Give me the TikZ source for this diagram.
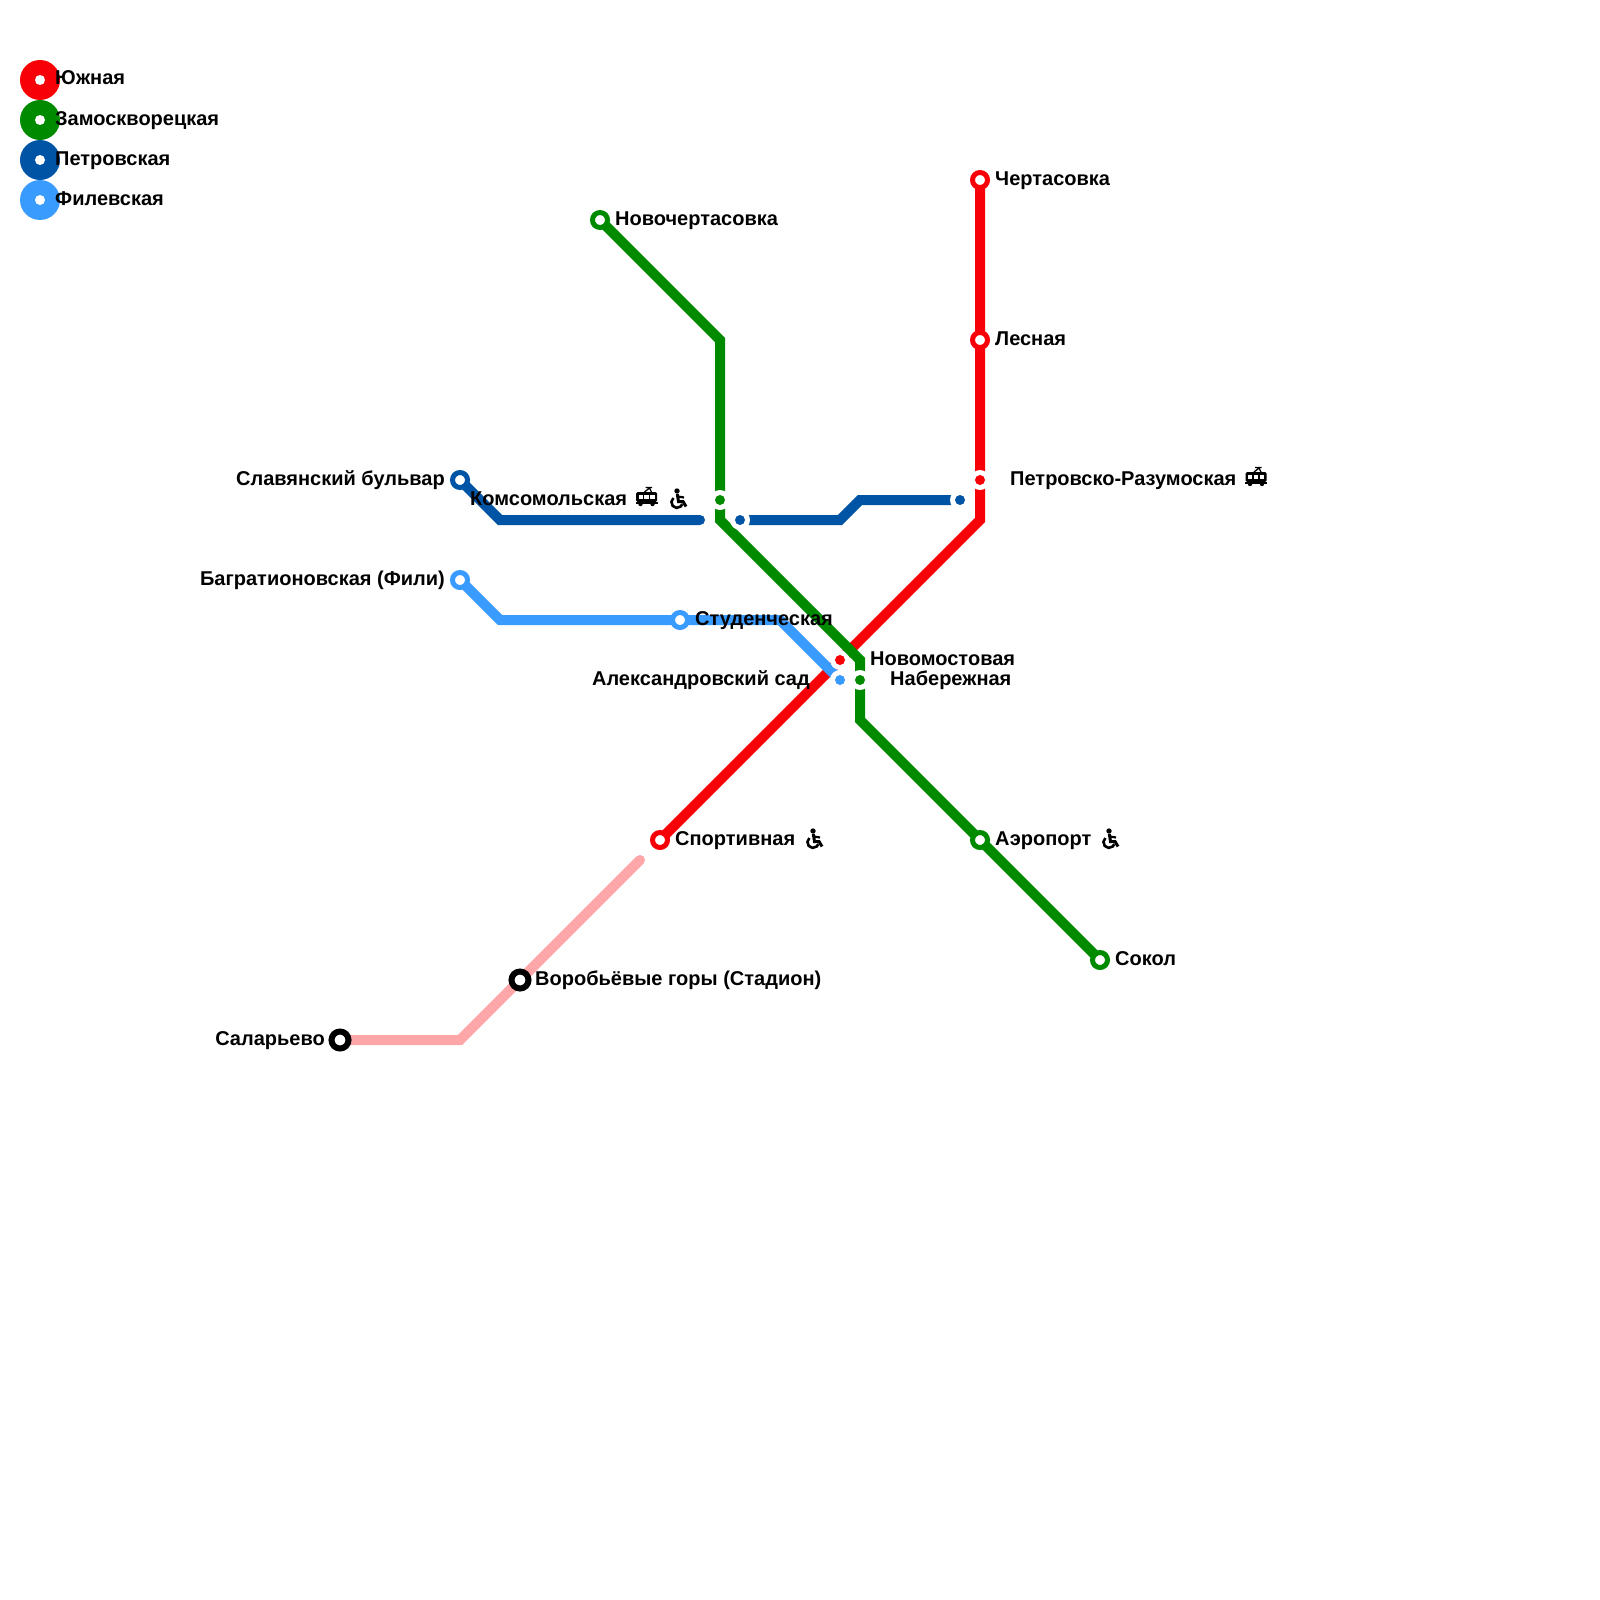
\documentclass[tikz,border=0pt]{standalone}
\usepackage{fontspec}
\setmainfont{Liberation Sans}
\definecolor{cred}{HTML}{F70007}
\definecolor{cgreen}{HTML}{008A00}
\definecolor{cblue}{HTML}{0054A6}
\definecolor{csky}{HTML}{3A9BFF}
\definecolor{cpink}{HTML}{FFA6A8}
\tikzset{
  ln/.style={line width=10pt,line join=miter,line cap=round},
  lbl/.style={font=\fontsize{20}{24}\selectfont\bfseries,inner sep=0pt,text=black},
  lw/.style={lbl,anchor=base west},
  le/.style={lbl,anchor=base east},
  ring/.style={circle,draw=#1,fill=white,line width=5pt,minimum size=15pt,inner sep=0pt,outer sep=0pt},
  bigring/.style={circle,draw=black,fill=white,line width=6pt,minimum size=17pt,inner sep=0pt,outer sep=0pt},
  halo/.style={circle,fill=white,minimum size=20pt,inner sep=0pt,outer sep=0pt},
  dot/.style={circle,fill=#1,minimum size=10pt,inner sep=0pt,outer sep=0pt},
  legend/.style={circle,fill=#1,minimum size=40pt,inner sep=0pt,outer sep=0pt},
  inner/.style={circle,fill=white,minimum size=10pt,inner sep=0pt,outer sep=0pt},
  pics/tram/.style={code={
    \fill[black,rounded corners=1.5pt] (-10.5,-6) rectangle (10.5,4);
    \fill[black] (-6,6) circle (2.2) (6,6) circle (2.2);
    \fill[black] (-11,3.5) rectangle (11,5.5);
    \fill[white] (-8,-3.5) rectangle (-3.7,0.5);
    \fill[white] (-2.2,-3.5) rectangle (2.2,0.5);
    \fill[white] (3.7,-3.5) rectangle (8,0.5);
    \draw[black,line width=1.3pt] (-2,-6) -- (3,-10) (-1,-10.5) -- (5.5,-10.5) (3,-10) -- (5,-6);
  }},
  pics/wheel/.style={code={
    \fill[black] (0,-8) circle (2.7);
    \draw[black,line width=3pt] (0.3,-5) -- (1.5,2.5) -- (6,2.5) -- (9,7.5);
    \draw[black,line width=2.2pt] (1,-2.5) -- (7,-1.5);
    \draw[black,line width=2.6pt] (-3.6,-1) arc[start angle=-130,end angle=-340,radius=5.6];
  }},
}
\begin{document}
\begin{tikzpicture}[x=1pt,y=-1pt]
\useasboundingbox (0,0) rectangle (1600,1600);
% station coordinates
\coordinate (chert) at (980,180);
\coordinate (les) at (980,340);
\coordinate (petr) at (980,480);
\coordinate (novom) at (840,660);
\coordinate (sport) at (660,840);
\coordinate (novoch) at (600,220);
\coordinate (koms) at (720,500);
\coordinate (nab) at (860,680);
\coordinate (aero) at (980,840);
\coordinate (sokol) at (1100,960);
\coordinate (slav) at (460,480);
\coordinate (komsb) at (740,520);
\coordinate (petrb) at (960,500);
\coordinate (bagr) at (460,580);
\coordinate (stud) at (680,620);
\coordinate (alex) at (840,680);
\coordinate (sal) at (340,1040);
\coordinate (vor) at (520,980);
\coordinate (gapend) at (700,520);
\coordinate (pinkend) at (640,860);
% lines
\draw[ln,cpink] (sal) -- (460,1040) -- (pinkend);
\draw[ln,cred] (chert) -- (petr) -- (980,520) -- (novom) -- (sport);
\draw[ln,csky] (bagr) -- (500,620) -- (780,620) -- (alex);
\node[halo] (hnovom) at (novom) {};
\node[halo] (halex) at (alex) {};
\draw[ln,cgreen] (novoch) -- (720,340) -- (720,520) -- (860,660) -- (860,720) -- (aero) -- (sokol);
\draw[ln,cblue] (slav) -- (500,520) -- (gapend);
\draw[ln,cblue] (komsb) -- (840,520) -- (860,500) -- (petrb);
% transfer dots
\node[dot=cred] (dnovom) at (novom) {};
\node[dot=csky] (dalex) at (alex) {};
\node[halo] (hkoms) at (koms) {}; \node[dot=cgreen] (dkoms) at (koms) {};
\node[halo] (hkomsb) at (komsb) {}; \node[dot=cblue] (dkomsb) at (komsb) {};
\node[halo] (hpetrb) at (petrb) {}; \node[dot=cblue] (dpetrb) at (petrb) {};
\node[halo] (hpetr) at (petr) {}; \node[dot=cred] (dpetr) at (petr) {};
\node[halo] (hnab) at (nab) {}; \node[dot=cgreen] (dnab) at (nab) {};
% ring stations
\node[ring=cred] (s1) at (chert) {};
\node[ring=cred] (s2) at (les) {};
\node[ring=cred] (s3) at (sport) {};
\node[ring=cgreen] (s4) at (novoch) {};
\node[ring=cgreen] (s5) at (aero) {};
\node[ring=cgreen] (s6) at (sokol) {};
\node[ring=cblue] (s7) at (slav) {};
\node[ring=csky] (s8) at (bagr) {};
\node[ring=csky] (s9) at (stud) {};
\node[bigring] (s10) at (sal) {};
\node[bigring] (s11) at (vor) {};
% legend
\foreach \n/\y/\c in {a/80/cred,b/120/cgreen,c/160/cblue,d/200/csky}{
  \node[legend=\c] (leg\n) at (40,\y) {};
  \node[inner] (ini\n) at (40,\y) {};
}
\node[lw] (la) at (55,85) {Южная};
\node[lw] (lb) at (55,125) {Замоскворецкая};
\node[lw] (lc) at (55,165) {Петровская};
\node[lw] (ld) at (55,205) {Филевская};
% labels
\node[lw] (t1) at (995,185) {Чертасовка};
\node[lw] (t2) at (995,345) {Лесная};
\node[lw] (t3) at (1010,485) {Петровско-Разумоская};
\node[lw] (t4) at (615,225) {Новочертасовка};
\node[lw] (t5) at (470,505) {Комсомольская};
\node[le] (t6) at (445,485) {Славянский бульвар};
\node[le] (t7) at (445,585) {Багратионовская (Фили)};
\node[lw] (t8) at (695,625) {Студенческая};
\node[lw] (t9) at (870,665) {Новомостовая};
\node[lw] (t10) at (890,685) {Набережная};
\node[le] (t11) at (810,685) {Александровский сад};
\node[lw] (t12) at (675,845) {Спортивная};
\node[lw] (t13) at (995,845) {Аэропорт};
\node[lw] (t14) at (1115,965) {Сокол};
\node[lw] (t15) at (535,985) {Воробьёвые горы (Стадион)};
\node[le] (t16) at (325,1045) {Саларьево};
% icons
\pic at (646.5,498) {tram};
\pic at (1256,478) {tram};
\pic at (677,499) {wheel};
\pic at (813,839) {wheel};
\pic at (1109,839) {wheel};
\end{tikzpicture}
\end{document}
